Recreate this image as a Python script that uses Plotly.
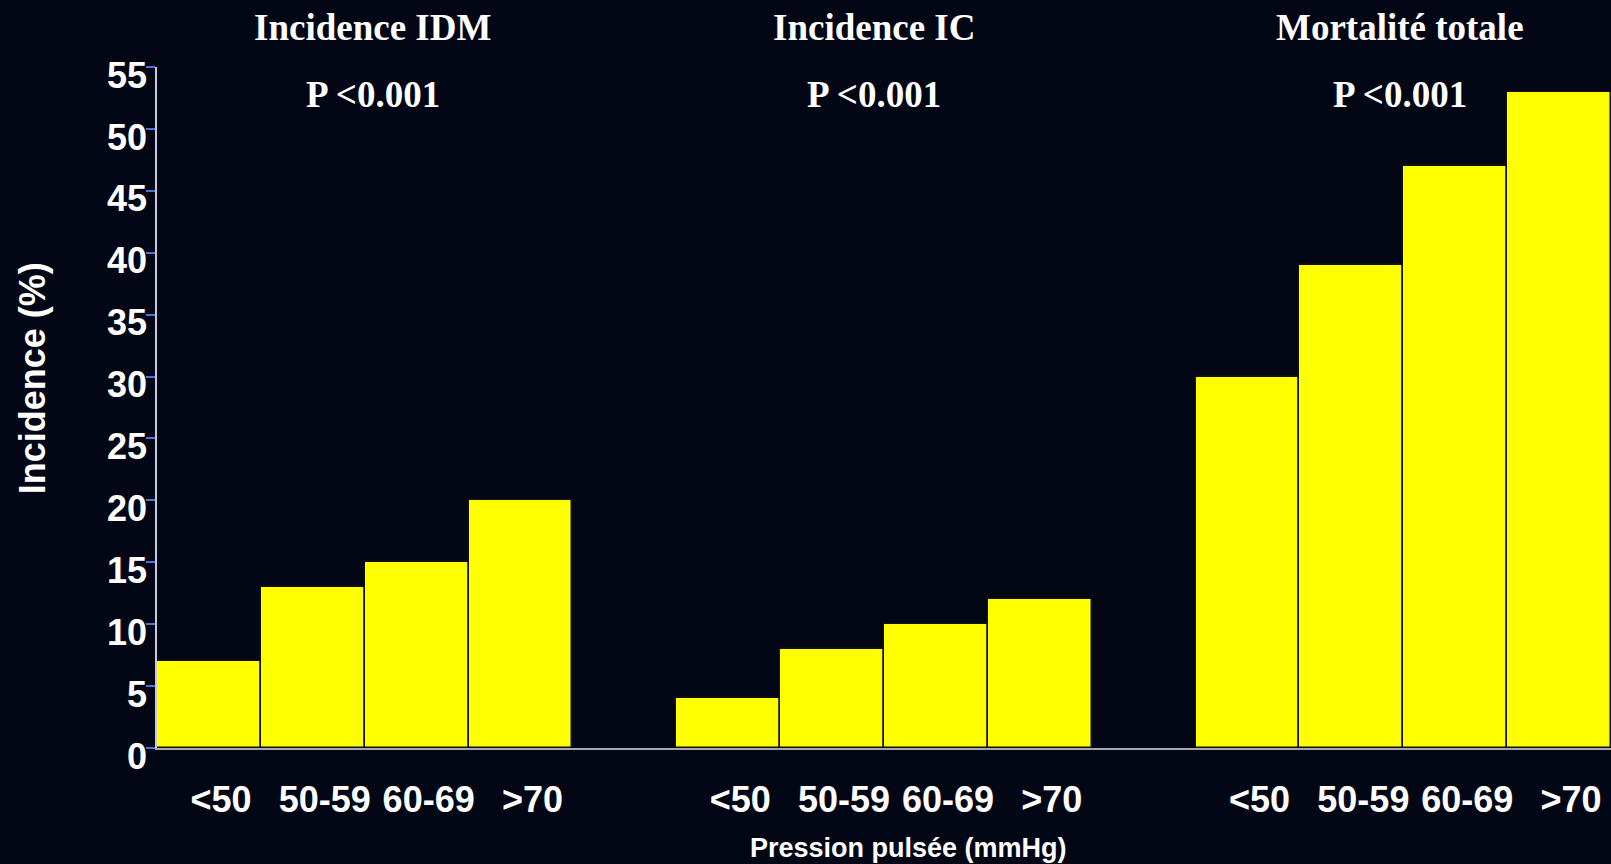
import plotly.graph_objects as go

categories = ["<50", "50-59", "60-69", ">70"]
groups = ["Incidence IDM", "Incidence IC", "Mortalité totale"]
idm = [7, 13, 15, 20]
ic = [4, 8, 10, 12]
mortalite = [30, 39, 47, 53]
p_labels = ["P <0.001", "P <0.001", "P <0.001"]
y_ticks = [0, 5, 10, 15, 20, 25, 30, 35, 40, 45, 50, 55]

series = [idm, ic, mortalite]
slot = len(categories) + 1

BG = "#020615"
YELLOW = "#FFFF00"

fig = go.Figure()
xs, ys, texts = [], [], []
for g, vals in enumerate(series):
    for i, v in enumerate(vals):
        xs.append(g * slot + i)
        ys.append(v)
        texts.append(categories[i])

fig.add_trace(go.Bar(
    x=xs, y=ys, width=1,
    marker=dict(color=YELLOW, line=dict(color="#111111", width=1.5)),
    showlegend=False, hoverinfo="y",
))

title_shift = [8, -10, -3]
for g, name in enumerate(groups):
    cx = g * slot + (len(categories) - 1) / 2
    fig.add_annotation(x=cx, y=1.0573, xref="x", yref="paper", text=f"<b>{name}</b>",
                       showarrow=False, xshift=title_shift[g], yanchor="middle",
                       font=dict(family="Liberation Serif", size=37, color="white"))
    fig.add_annotation(x=cx, y=0.9596, xref="x", yref="paper", text=f"<b>{p_labels[g]}</b>",
                       showarrow=False, xshift=title_shift[g], yanchor="middle",
                       font=dict(family="Liberation Serif", size=37, color="white"))

fig.add_annotation(x=0.517, y=-0.1468, xref="paper", yref="paper",
                   text="<b>Pression pulsée (mmHg)</b>", showarrow=False,
                   xanchor="center", yanchor="middle",
                   font=dict(family="Liberation Sans", size=27, color="white"))
fig.add_annotation(x=-0.0859, y=0.543, xref="paper", yref="paper",
                   text="<b>Incidence (%)</b>", showarrow=False, textangle=-90,
                   xanchor="center", yanchor="middle",
                   font=dict(family="Liberation Sans", size=36, color="white"))

fig.update_layout(
    width=1611, height=864,
    paper_bgcolor=BG, plot_bgcolor=BG,
    margin=dict(l=157, r=0, t=67, b=116),
    bargap=0,
    xaxis=dict(
        range=[-0.5, len(series) * slot - 1.5],
        tickmode="array", tickvals=xs, ticktext=texts,
        showgrid=False, zeroline=False,
        showline=True, linecolor="#a8a8b0", linewidth=1.5,
        ticks="", ticklabelstandoff=19, ticklabelshift=12,
        tickfont=dict(family="Liberation Sans", size=36, color="white", weight="bold"),
    ),
    yaxis=dict(
        range=[0, 55], tickmode="array", tickvals=y_ticks,
        showgrid=False, zeroline=False,
        showline=True, linecolor="#c8c8dc", linewidth=1.5,
        ticks="outside", ticklen=9, tickcolor="#4a74dc", tickwidth=1.5,
        ticklabelshift=8, ticklabelstandoff=-8,
        tickfont=dict(family="Liberation Sans", size=36, color="white", weight="bold"),
    ),
)

fig.write_html("out.html", config={"displayModeBar": False})

with open("out.html", "r", encoding="utf-8") as f:
    html = f.read()
html = html.replace("<head>", "<head><style>html,body{margin:0;padding:0;background:#020615;overflow:hidden;}</style>", 1)
with open("out.html", "w", encoding="utf-8") as f:
    f.write(html)
